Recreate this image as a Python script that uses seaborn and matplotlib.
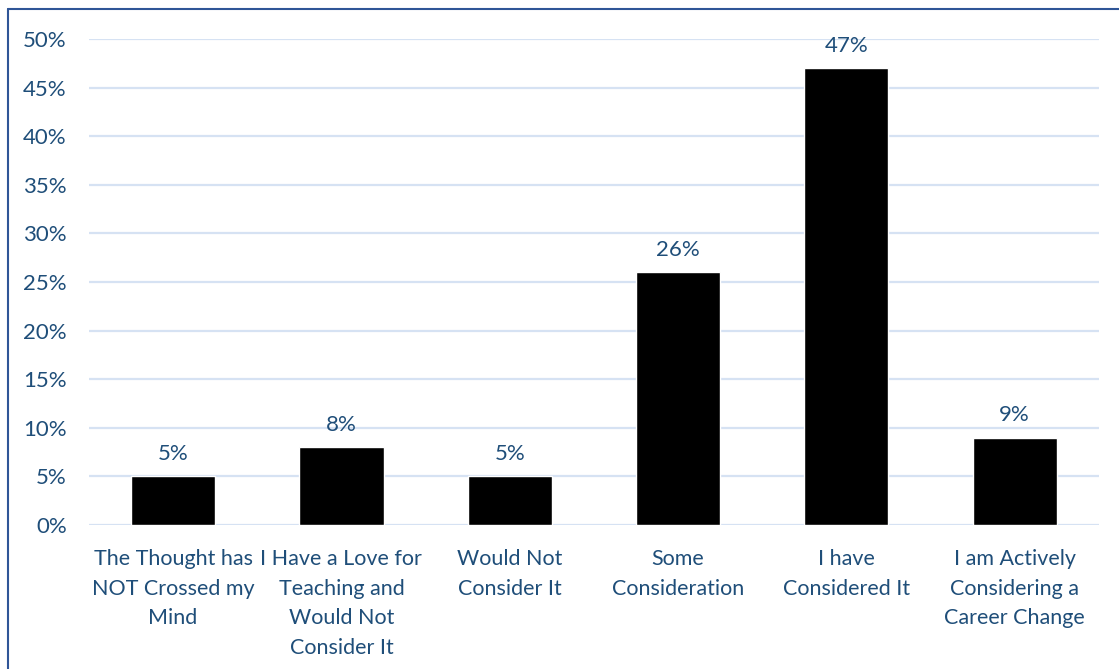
import matplotlib
matplotlib.use("Agg")
import matplotlib.pyplot as plt
import seaborn as sns
import pandas as pd
from matplotlib.lines import Line2D

categories = [
    "The Thought has\nNOT Crossed my\nMind",
    "I Have a Love for\nTeaching and\nWould Not\nConsider It",
    "Would Not\nConsider It",
    "Some\nConsideration",
    "I have\nConsidered It",
    "I am Actively\nConsidering a\nCareer Change",
]
percent = [5, 8, 5, 26, 47, 9]
y_ticks = [0, 5, 10, 15, 20, 25, 30, 35, 40, 45, 50]

text_color = "#1F4E79"
grid_color = "#D6E2F3"

sns.set_style("white")
plt.rcParams["font.family"] = ["Lato", "DejaVu Sans"]

df = pd.DataFrame({"category": categories, "percent": percent})

fig = plt.figure(figsize=(11.19, 6.69), dpi=100)
ax = fig.add_axes([0.0795, 0.2152, 0.9025, 0.7265])

sns.barplot(data=df, x="category", y="percent", color="black", width=0.5,
            saturation=1, ax=ax, zorder=3)

ax.set_ylim(0, 50)
ax.set_yticks(y_ticks)
ax.set_yticklabels([f"{t}%" for t in y_ticks])
ax.yaxis.grid(True, color=grid_color, linewidth=1.6, zorder=0)
ax.set_axisbelow(True)
for s in ax.spines.values():
    s.set_visible(False)
ax.tick_params(axis="y", length=0, pad=16, labelsize=16, labelcolor=text_color)
ax.tick_params(axis="x", length=0, pad=17, labelsize=15.5, labelcolor=text_color)
for lbl in ax.get_xticklabels():
    lbl.set_linespacing(1.62)
    lbl.set_verticalalignment("top")
ax.set_xlabel("")
ax.set_ylabel("")

for i, v in enumerate(percent):
    ax.annotate(f"{v}%", (i, v), xytext=(0, 9), textcoords="offset points",
                ha="center", va="bottom", fontsize=16, color=text_color)

# chart frame (left and top edges visible)
fig.add_artist(Line2D([8 / 1119, 8 / 1119], [0, 1 - 9 / 669], transform=fig.transFigure,
                      color="#2F5597", linewidth=1.5))
fig.add_artist(Line2D([8 / 1119, 1], [1 - 9 / 669, 1 - 9 / 669], transform=fig.transFigure,
                      color="#2F5597", linewidth=1.5))

fig.savefig("out.png", dpi=100)
